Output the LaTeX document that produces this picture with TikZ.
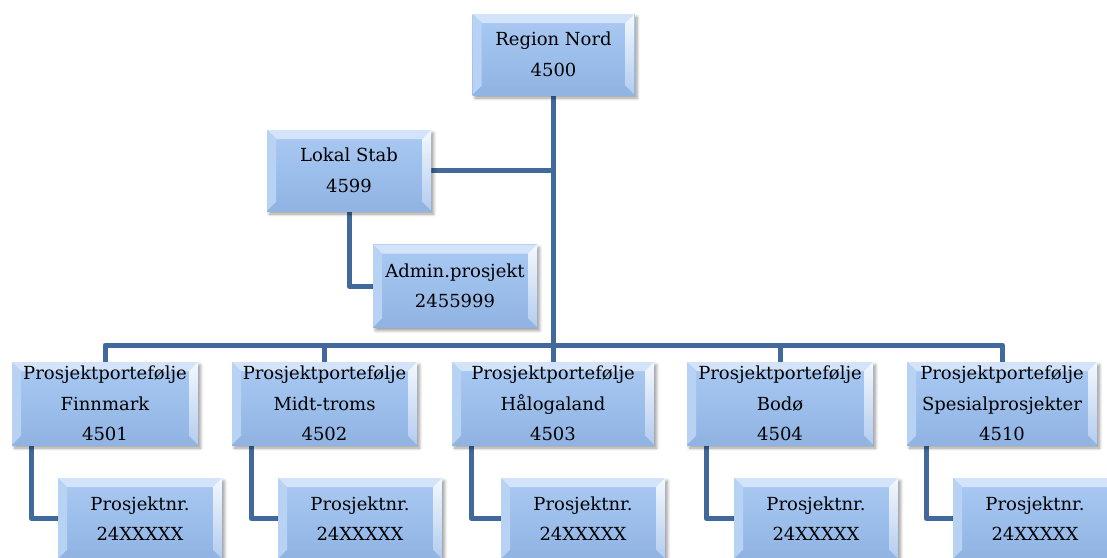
\documentclass[tikz,border=0pt]{standalone}
\usepackage{fontspec}
\setmainfont{DejaVu Serif}
\usetikzlibrary{shadows.blur,backgrounds}

\definecolor{facetop}{HTML}{AACAF3}
\definecolor{facebot}{HTML}{8FB3E3}
\definecolor{beveltop}{HTML}{D3E4FA}
\definecolor{bevelleft}{HTML}{B8D2F4}
\definecolor{bevelrighttop}{HTML}{F4F8FE}
\definecolor{bevelrightbot}{HTML}{B2CCEF}
\definecolor{bevelbot}{HTML}{92B4E2}
\definecolor{linkblue}{HTML}{41699B}

\newcommand{\bvw}{9pt}

\tikzset{
  orgbox/.style={
    minimum height=81pt, inner sep=0pt, align=center,
    font=\fontsize{18}{30.5}\selectfont,
    top color=facetop, bottom color=facebot, draw=none,
    blur shadow={shadow xshift=2.5pt, shadow yshift=-3pt,
      shadow blur steps=6, shadow blur radius=3pt, shadow opacity=40},
    path picture={
      \coordinate (nw) at (path picture bounding box.north west);
      \coordinate (ne) at (path picture bounding box.north east);
      \coordinate (sw) at (path picture bounding box.south west);
      \coordinate (se) at (path picture bounding box.south east);
      \coordinate (inw) at ([xshift=\bvw,yshift=-\bvw]nw);
      \coordinate (ine) at ([xshift=-\bvw,yshift=-\bvw]ne);
      \coordinate (isw) at ([xshift=\bvw,yshift=\bvw]sw);
      \coordinate (ise) at ([xshift=-\bvw,yshift=\bvw]se);
      % bevelled rim: top, left, right, bottom
      \fill[beveltop] (nw) -- (ne) -- (ine) -- (inw) -- cycle;
      \fill[bevelleft] (nw) -- (inw) -- (isw) -- (sw) -- cycle;
      \shade[top color=bevelrighttop, bottom color=bevelrightbot]
        (ne) -- (se) -- (ise) -- (ine) -- cycle;
      \fill[bevelbot] (sw) -- (isw) -- (ise) -- (se) -- cycle;
    }},
  link/.style={draw=linkblue, line width=5pt, line join=round}
}

\begin{document}
\begin{tikzpicture}[x=1pt,y=-1pt]
\useasboundingbox (0,0) rectangle (1107,557);
\clip (0,0) rectangle (1107,557);

% top of the tree
\node[orgbox, minimum width=162pt] (nord) at (553.5,54.5) {Region Nord\\4500};
\node[orgbox, minimum width=164pt] (stab) at (349,170.5) {Lokal Stab\\4599};
\node[orgbox, minimum width=164pt, minimum height=83pt] (admin) at (455,286) {Admin.prosjekt\\2455999};

% portfolio level
\node[orgbox, minimum width=186pt, minimum height=83pt] (p1) at (105,403.5) {Prosjektportefølje\\Finnmark\\4501};
\node[orgbox, minimum width=185pt, minimum height=83pt] (p2) at (324.5,403.5) {Prosjektportefølje\\Midt-troms\\4502};
\node[orgbox, minimum width=202pt, minimum height=83pt] (p3) at (553,403.5) {Prosjektportefølje\\Hålogaland\\4503};
\node[orgbox, minimum width=186pt, minimum height=83pt] (p4) at (780,403.5) {Prosjektportefølje\\Bodø\\4504};
\node[orgbox, minimum width=190pt, minimum height=83pt] (p5) at (1002,403.5) {Prosjektportefølje\\Spesialprosjekter\\4510};

% project level
\node[orgbox, minimum width=164pt] (c1) at (140,518.5) {Prosjektnr.\\24XXXXX};
\node[orgbox, minimum width=164pt] (c2) at (360,518.5) {Prosjektnr.\\24XXXXX};
\node[orgbox, minimum width=164pt] (c3) at (583,518.5) {Prosjektnr.\\24XXXXX};
\node[orgbox, minimum width=164pt] (c4) at (816,518.5) {Prosjektnr.\\24XXXXX};
\node[orgbox, minimum width=164pt] (c5) at (1035,518.5) {Prosjektnr.\\24XXXXX};

\coordinate (bus) at (553.5,345);

\begin{scope}[on background layer]
  \draw[link] (nord.south) -- (bus);
  \draw[link] (stab.east) -- (stab.east -| bus);
  \draw[link] (stab.south) |- (admin.west);
  \draw[link] (p1.north) -- (p1.north |- bus) -- (p5.north |- bus) -- (p5.north);
  \foreach \p in {p2,p3,p4} {
    \draw[link] (\p.north) -- (\p.north |- bus);
  }
  \foreach \p/\c in {p1/c1,p2/c2,p3/c3,p4/c4,p5/c5} {
    \draw[link] ([xshift=19.5pt]\p.south west) |- (\c.west);
  }
\end{scope}
\end{tikzpicture}
\end{document}
